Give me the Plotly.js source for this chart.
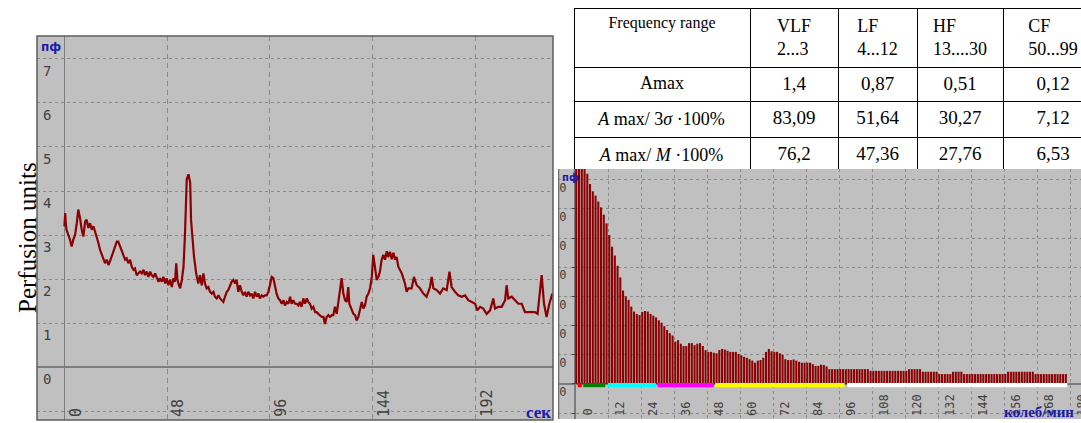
<!DOCTYPE html>
<html>
<head>
<meta charset="utf-8">
<script src="https://cdn.plot.ly/plotly-3.0.1.min.js"></script>
<style>
html,body{margin:0;padding:0;background:#fff;overflow:hidden;width:1081px;height:423px;}
#left{position:absolute;left:0;top:0;width:557px;height:423px;}
#rightClip{position:absolute;left:558px;top:0;width:523px;height:423px;overflow:hidden;}
#right{position:absolute;left:-42px;top:0;width:600px;height:423px;}
</style>
</head>
<body>
<div id="left"></div>
<div id="rightClip"><div id="right"></div></div>
<script>
// ---------- Left chart: perfusion signal ----------
const timeSec = [0,0.4,0.6,1,2.6,3.4,4.2,5,5.8,6.5,7.3,8.1,8.9,9.7,10.4,11.2,12,12.8,13.6,14.3,15.1,15.9,16.7,17.5,18.2,19,19.8,20.6,21.3,22.1,22.9,23.7,24.5,25.2,26,26.8,27.6,28.4,29.1,29.9,30.7,31.5,32.3,33,33.8,34.6,35.4,36.2,37,37.7,38.5,39.3,40.1,40.8,41.6,42.4,43.2,44,44.7,45.5,46.3,47.1,47.8,48.6,49.4,50.2,51,51.7,52.3,52.5,52.8,53.3,54.1,54.9,55.7,56.4,57.2,58,58.8,59.2,60,60.6,61.6,62.6,63.4,64.2,65,65.7,66.5,67.3,68.1,68.9,69.7,70.4,71.2,72,72.8,73.6,74.3,75.1,
75.9,76.6,78.2,79,79.8,80.5,81.3,82.1,82.9,83.7,84.4,85.2,86,86.8,87.5,88.3,89.1,89.9,90.7,91.4,92.2,93,93.8,94.6,95.3,96.1,96.9,97.7,98.5,99.2,100,100.8,101.6,102.4,103.1,103.9,104.7,105.5,106.2,107,107.8,108.6,109.4,110.1,110.9,111.7,112.5,113.3,114,114.8,115.6,116.4,117.2,117.9,118.7,119.5,120.3,121.1,121.8,122.6,123.4,124.2,125,125.7,126.5,127.3,128.1,128.8,129.6,130.4,131.2,132,132.7,133.2,134.3,135.1,135.9,136.6,137.4,138.2,139,139.8,140.5,141.3,142.1,142.9,143.7,144.4,145.2,146,146.8,147.5,148.3,149.1,149.9,150.7,151.4,152.2,153,153.8,154.6,155.3,
156.1,157.7,159.2,160,160.8,162.3,163.4,164.7,166.2,167.8,169.3,170.9,171.7,172.5,174,175.6,177.1,178.7,180,181,182.6,184.1,185.7,187.3,188.8,190.4,192,193,194.3,195.8,197.4,199,200.5,201.3,202.8,204.4,206,206.7,207.5,209.1,210.6,212.2,213.8,215.3,216.9,218.4,220,221.2,222.3,223.1,224.2,225.4,226.7,228.1];
const perfusion = [3.2,3.5,3.3,3.12,2.9,2.74,2.9,3.0,3.27,3.58,3.39,3.12,2.97,3.31,3.35,3.16,3.27,3.12,3.2,3.08,3.0,2.82,2.66,2.55,2.44,2.36,2.44,2.32,2.4,2.51,2.59,2.74,2.85,2.85,2.74,2.63,2.51,2.44,2.47,2.36,2.44,2.28,2.21,2.24,2.09,2.13,2.17,2.13,2.21,2.09,2.17,2.05,2.17,2.09,2.05,2.13,2.02,1.94,2.02,1.94,2.05,1.9,2.02,1.86,1.98,1.82,2.02,1.94,2.36,2.13,2.0,1.9,1.79,1.98,2.28,3.05,4.27,4.38,4.19,3.35,2.82,2.51,2.13,1.9,2.09,1.86,2.13,1.9,1.79,1.82,1.71,1.67,1.71,1.6,1.56,1.63,1.56,1.52,1.48,1.6,
1.71,1.75,1.94,1.98,1.9,1.98,1.71,1.86,1.71,1.63,1.71,1.6,1.71,1.63,1.67,1.56,1.71,1.6,1.67,1.56,1.63,1.6,1.63,1.63,1.71,1.86,2.05,2.02,1.82,1.67,1.56,1.52,1.44,1.52,1.4,1.48,1.44,1.6,1.44,1.52,1.44,1.44,1.4,1.48,1.37,1.56,1.44,1.56,1.48,1.44,1.33,1.37,1.25,1.25,1.21,1.18,1.14,1.14,0.98,1.14,1.18,1.14,1.18,1.18,1.37,1.21,1.52,1.75,2.02,1.67,1.52,1.48,1.82,1.44,1.29,1.21,1.18,1.06,1.14,1.29,1.48,1.33,1.4,1.6,1.67,1.79,2.05,2.55,2.21,1.98,2.05,2.17,2.44,2.55,2.44,2.63,2.5,2.62,2.45,2.6,2.44,2.5,
2.28,2.13,1.9,1.71,1.79,1.79,2.05,1.86,1.79,1.67,1.6,1.82,2.05,1.79,1.75,1.67,1.79,1.75,2.17,1.82,1.71,1.63,1.6,1.63,1.52,1.48,1.44,1.29,1.37,1.33,1.21,1.29,1.56,1.33,1.37,1.37,1.52,1.86,1.56,1.6,1.52,1.44,1.44,1.25,1.25,1.25,1.25,1.21,1.67,2.09,1.44,1.14,1.44,1.67];
const leftXTicks = [0,48,96,144,192];
const leftXTickText = ['0','48','96','144','192'];
const leftYTicks = [-1,0,1,2,3,4,5,6,7];
const leftYTickText = ['','0','1','2','3','4','5','6','7'];

// ---------- Right chart: amplitude spectrum ----------
const amplitude = [8.6,8.3,8.0,7.6,7.2,
6.85,6.6,6.45,6.25,6.05, 5.8,5.5,5.1,4.7,4.4, 4.05,3.65,3.2,3.0,2.88,
2.65,2.48,2.4,2.36,2.47, 2.5,2.48,2.4,2.34,2.28, 2.18,2.1,1.98,1.85,1.74,
1.66,1.45,1.5,1.38,1.3, 1.3,1.4,1.4,1.33,1.38, 1.4,1.3,1.16,1.1,1.1,
1.07,1.05,1.16,1.2,1.18, 1.14,1.1,1.1,1.1,1.03, 0.98,0.93,0.9,0.85,0.8,
0.73,0.8,0.82,0.9,1.1, 1.2,1.12,1.1,1.1,1.05, 1.0,0.85,0.82,0.82,0.84,
0.8,0.76,0.73,0.73,0.73, 0.73,0.68,0.62,0.62,0.66, 0.65,0.6,0.51,0.51,0.51,
0.51,0.51,0.51,0.51,0.51,0.51,0.51,0.51,0.51,0.51,0.51,0.51,
0.45,0.45,0.45,0.45,0.45,0.45,0.45,0.45,0.45,0.45,0.45,0.45,0.45,0.45,
0.51,0.51,0.51,0.51,0.51,
0.42,0.42,0.42,0.42,0.42,0.42,
0.34,0.34,0.34,0.34,0.34,
0.42,0.42,0.42,0.42,
0.34,0.34,0.34,0.34,0.34,0.34,0.34,0.34,0.34,0.34,0.34,0.34,0.34,0.34,0.34,0.34,
0.42,0.42,0.42,0.42,0.42,0.42,0.42,0.42,0.42,0.42,
0.34,0.34,0.34,0.34,0.34,0.34,0.34,0.34,0.34,0.34,0.34,0.34];
const rightXTicks = [0,12,24,36,48,60,72,84,96,108,120,132,144,156,168,180];
const rightXTickText = ['0','12','24','36','48','60','72','84','96','108','120','132','144','156','168','180'];
const rightYTicks = [-1,0,1,2,3,4,5,6,7];
// only the last digit of each y label is visible in the reference
const rightYTickText = ['','0','0','0','0','0','0','0','0'];
const bandStart = [1, 3, 12, 30, 51, 99];
const bandEnd   = [2.5, 11, 29.5, 50.5, 98, 179];
const bandColor = ['#ff0000','#008000','#00ffff','#ff00ff','#ffff00','#ffffff'];

// ---------- Table ----------
const tableHeader = ['Frequency range','VLF<br>2...3','LF<br>4...12','HF<br>13....30','CF<br>50...99'];
const rowLabels = ['Amax','<i>A</i> max/ 3<i>σ</i> ·100%','<i>A</i> max/ <i>M</i> ·100%'];
const vlfVals = ['1,4','83,09','76,2'];
const lfVals  = ['0,87','51,64','47,36'];
const hfVals  = ['0,51','30,27','27,76'];
const cfVals  = ['0,12','7,12','6,53'];

const GRID = '#8a8a8a', ZERO = '#7c7c7c', TICKC = '#404040', BLUE = '#1c1ca8', RED = '#8b0000';
const cfg = {staticPlot:true, displayModeBar:false};

// ----- left figure -----
const leftTrace = {type:'scatter', mode:'lines', x:timeSec, y:perfusion,
  line:{color:RED, width:2.2}, hoverinfo:'skip'};
const leftAnn = leftXTicks.map((v,i)=>({x:v, xref:'x', y:0, yref:'y domain', text:leftXTickText[i],
  textangle:-90, xanchor:'left', yanchor:'bottom', xshift:0, yshift:1, showarrow:false,
  font:{family:'DejaVu Sans Mono', size:15, color:TICKC}}));
leftAnn.push({xref:'paper', yref:'paper', x:-0.0174, y:0.474, text:'Perfusion units', textangle:-90,
  showarrow:false, xanchor:'center', yanchor:'middle', font:{family:'Liberation Serif', size:25, color:'#000'}});
leftAnn.push({xref:'paper', yref:'paper', x:0.004, y:0.972, text:'<b>пф</b>', showarrow:false,
  xanchor:'left', yanchor:'middle', font:{family:'DejaVu Sans', size:12, color:BLUE}});
leftAnn.push({xref:'paper', yref:'paper', x:1, y:0.02, text:'<b>сек</b>', showarrow:false,
  xanchor:'right', yanchor:'middle', font:{family:'Liberation Serif', size:17, color:BLUE}});

const leftLayout = {
  width:557, height:423, margin:{l:37, r:4, t:36, b:3, pad:0},
  paper_bgcolor:'#ffffff', plot_bgcolor:'#c0c0c0', showlegend:false,
  xaxis:{range:[-12.8,228.4], tickvals:leftXTicks, showticklabels:false, ticks:'',
    showgrid:true, gridcolor:GRID, griddash:'5px,4px', gridwidth:1,
    zeroline:true, zerolinecolor:ZERO, zerolinewidth:1.5, showline:false},
  yaxis:{range:[-1.2,7.52], tickvals:leftYTicks, ticktext:leftYTickText, ticks:'',
    ticklabelposition:'inside', ticklabelshift:12, ticklabelstandoff:3,
    tickfont:{family:'DejaVu Sans Mono', size:14, color:TICKC},
    showgrid:true, gridcolor:GRID, griddash:'3px,3px', gridwidth:1,
    zeroline:true, zerolinecolor:ZERO, zerolinewidth:1.5, showline:false},
  shapes:[{type:'rect', xref:'paper', yref:'paper', x0:0, x1:1, y0:0, y1:1,
    line:{color:'#5e5e5e', width:1.5}, layer:'above'}],
  annotations:leftAnn
};
Plotly.newPlot('left', [leftTrace], leftLayout, cfg);

// ----- right figure -----
const RW = 600, RH = 423;
const barTrace = {type:'bar', x0:1, dx:1, y:amplitude, width:0.75, offset:-0.9,
  marker:{color:RED, line:{width:0}}, hoverinfo:'skip', xaxis:'x', yaxis:'y'};
const tableTrace = {type:'table',
  domain:{x:[58/RW, 587/RW], y:[1-169/RH, 1-8/RH]},
  columnwidth:[176,88,79,86,100],
  header:{values:tableHeader, align:'center', height:50,
    fill:{color:'#ffffff'}, line:{color:'#000000', width:1},
    font:{family:'Liberation Serif', size:[16,18,18,18,18], color:'#000'}},
  cells:{values:[rowLabels, vlfVals, lfVals, hfVals, cfVals], align:'center', height:34,
    fill:{color:'#ffffff'}, line:{color:'#000000', width:1},
    font:{family:'Liberation Serif', size:[18,19,19,19,19], color:'#000'}}
};
const rightAnn = rightXTicks.map((v,i)=>({x:v, xref:'x', y:0, yref:'y domain', text:rightXTickText[i],
  textangle:-90, xanchor:'left', yanchor:'bottom', xshift:3, yshift:1, showarrow:false,
  font:{family:'DejaVu Sans Mono', size:12, color:TICKC}}));
rightAnn.push({xref:'paper', yref:'paper', x:44/RW, y:1-170/RH, text:'<b>пф</b>', showarrow:false,
  xanchor:'left', yanchor:'top', font:{family:'DejaVu Sans', size:10, color:BLUE}});
rightAnn.push({xref:'paper', yref:'paper', x:486/RW, y:1-412/RH, text:'<b>колеб/мин</b>', showarrow:false,
  xanchor:'left', yanchor:'middle', font:{family:'Liberation Serif', size:15, color:BLUE}});
const bandShapes = bandStart.map((s,i)=>({type:'rect', xref:'x', yref:'y', x0:s, x1:bandEnd[i],
  y0:0.03, y1:-0.11, fillcolor:bandColor[i], line:{width:0}, layer:'above'}));
bandShapes.push({type:'line', xref:'paper', yref:'paper', x0:42.5/RW, x1:42.5/RW, y0:1-419/RH, y1:1-169/RH,
  line:{color:'#6e6e6e', width:1.5}, layer:'above'});

const rightLayout = {
  width:RW, height:RH, margin:{l:0, r:0, t:0, b:0, pad:0},
  paper_bgcolor:'rgba(0,0,0,0)', plot_bgcolor:'#c0c0c0', showlegend:false, bargap:0.25,
  xaxis:{domain:[42/RW, 584/RW], range:[-6.18,190.9], tickvals:rightXTicks, showticklabels:false, ticks:'',
    showgrid:true, gridcolor:GRID, griddash:'3px,3px', gridwidth:1,
    zeroline:true, zerolinecolor:ZERO, zerolinewidth:1.5, showline:false},
  yaxis:{domain:[1-419/RH, 1-169/RH], range:[-1.199,7.363], anchor:'free', position:59/RW,
    tickvals:rightYTicks, ticktext:rightYTickText, ticks:'outside', ticklen:3, tickcolor:TICKC,
    ticklabelshift:8, ticklabelstandoff:3,
    tickfont:{family:'DejaVu Sans Mono', size:12, color:TICKC},
    showgrid:true, gridcolor:GRID, griddash:'3px,3px', gridwidth:1,
    zeroline:true, zerolinecolor:ZERO, zerolinewidth:1.5, showline:false},
  shapes:bandShapes,
  annotations:rightAnn
};
Plotly.newPlot('right', [barTrace, tableTrace], rightLayout, cfg);
</script>
</body>
</html>
